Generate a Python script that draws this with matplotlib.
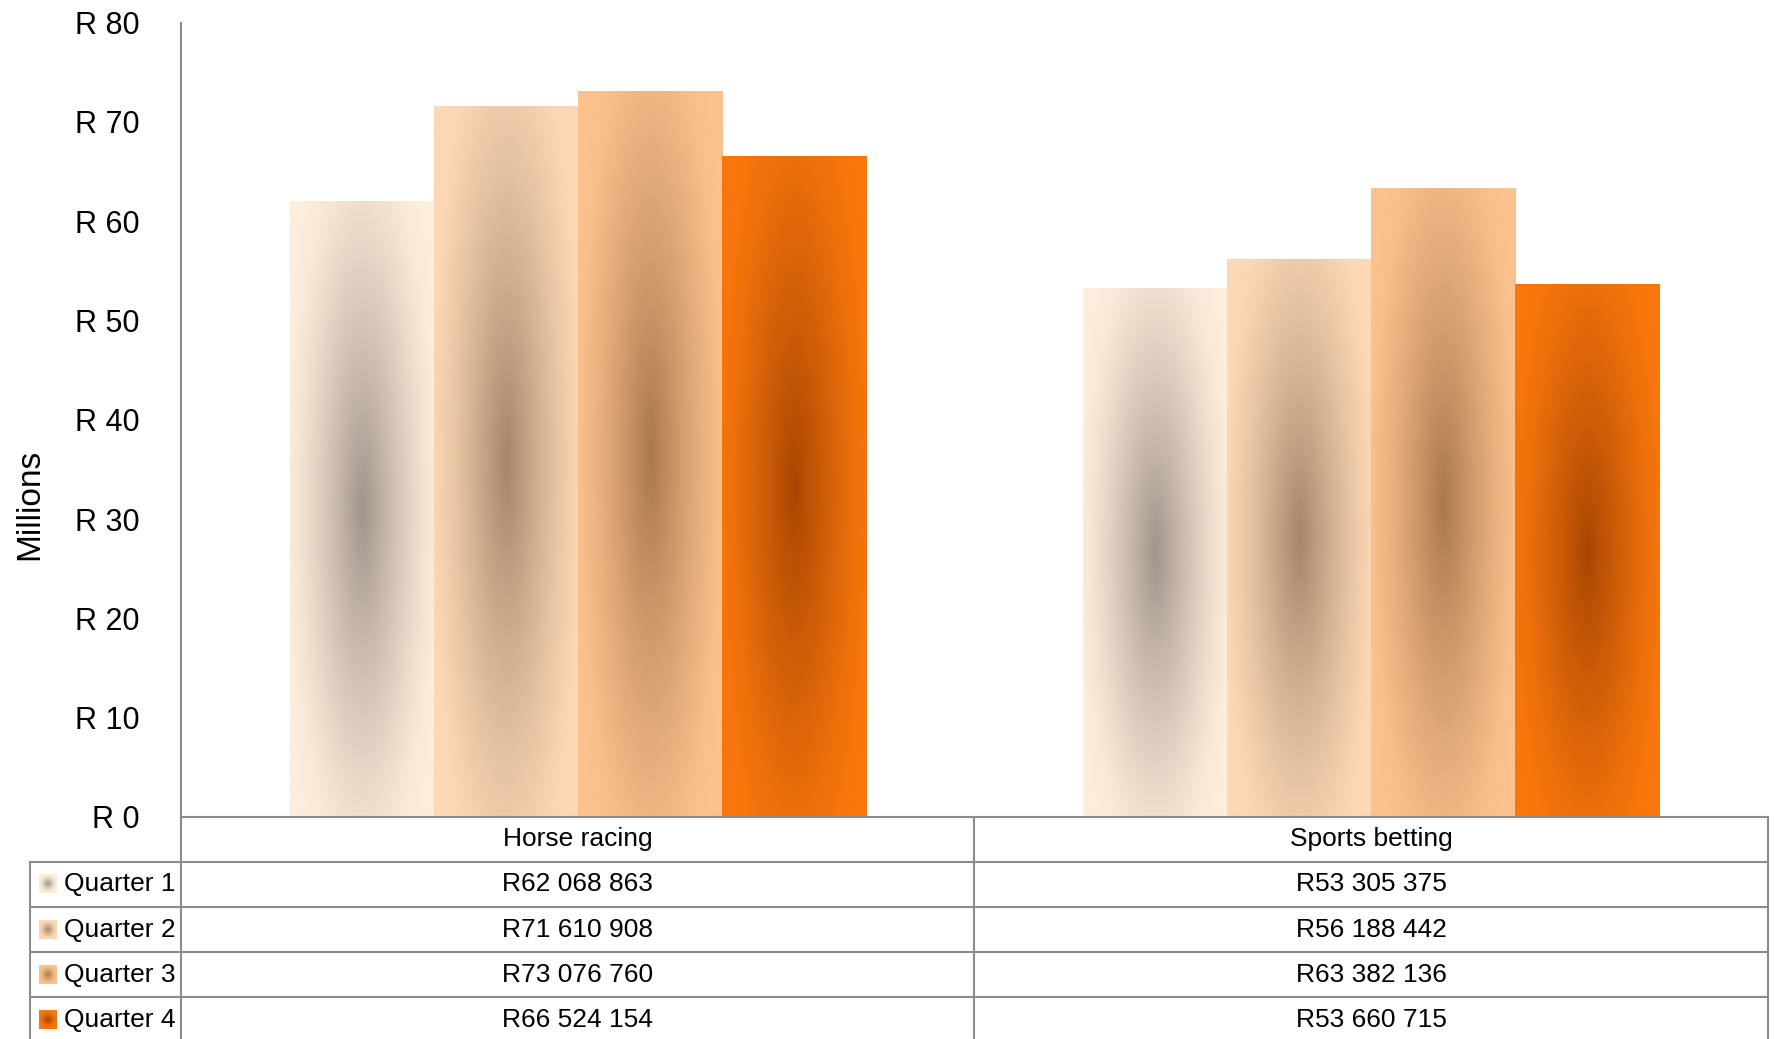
import numpy as np
import matplotlib.pyplot as plt
from matplotlib.colors import to_rgb
from matplotlib.transforms import blended_transform_factory

plt.rcParams['font.family'] = ['Liberation Sans', 'DejaVu Sans']

categories = ['Horse racing', 'Sports betting']
quarters = ['Quarter 1', 'Quarter 2', 'Quarter 3', 'Quarter 4']
q1 = [62068863, 53305375]
q2 = [71610908, 56188442]
q3 = [73076760, 63382136]
q4 = [66524154, 53660715]
values = [q1, q2, q3, q4]

yticks = [0, 10, 20, 30, 40, 50, 60, 70, 80]
ytick_labels = ['R %d' % t for t in yticks]

# light edge / dark centre of each quarter's radial fill
edge_colours = ['#fdeedc', '#fdd8b4', '#fcc28e', '#f8770c']
centre_colours = ['#a2948a', '#a5866c', '#aa784e', '#a84604']
grid_col = '#8c8c8c'


def gradient_image(edge, centre, n=240, cy=0.5, rx=1.1, ry=0.68, power=1.35):
    # rows run bottom -> top (use origin='lower')
    yy, xx = np.mgrid[0:1:n * 1j, -1:1:n * 1j]
    r = np.sqrt((xx / rx) ** 2 + ((yy - cy) / ry) ** 2)
    t = np.clip(1 - r, 0, 1) ** power
    e = np.array(to_rgb(edge))
    c = np.array(to_rgb(centre))
    return e * (1 - t[..., None]) + c * t[..., None]


def fmt_rand(v):
    return 'R' + format(v, ',').replace(',', ' ')


fig = plt.figure(figsize=(17.75, 10.39), dpi=100)
ax = fig.add_axes([0.102, 0.2137, 0.894, 0.7645])

x = np.arange(len(categories))
w = 0.1815
for i, vals in enumerate(values):
    heights = np.array(vals) / 1e6
    bars = ax.bar(x + (i - 1.5) * w, heights, width=w, facecolor='none', edgecolor='none')
    img = gradient_image(edge_colours[i], centre_colours[i])
    for rect in bars:
        x0 = rect.get_x()
        im = ax.imshow(img, extent=[x0, x0 + rect.get_width(), 0, rect.get_height()],
                       origin='lower', aspect='auto', zorder=2, interpolation='bilinear')
        im.set_clip_path(rect)

ax.set_xlim(-0.5, 1.5)
ax.set_ylim(0, 80)
ax.set_xticks([])
ax.set_yticks(yticks)
ax.set_yticklabels(ytick_labels, fontsize=22)
ax.tick_params(axis='y', length=0, pad=30)
for s in ['top', 'right']:
    ax.spines[s].set_visible(False)
for s in ['left', 'bottom']:
    ax.spines[s].set_color(grid_col)
    ax.spines[s].set_linewidth(1.5)

fig.text(30 / 1775, 1 - 504 / 1039, 'Millions', rotation=90, fontsize=24,
         ha='center', va='center')

# data table under the plot
h = 45 / 794
tr = blended_transform_factory(ax.transData, ax.transAxes)
leg_left = (30 - 181) / 1587
line_kw = dict(color=grid_col, lw=1.5, clip_on=False)
n_rows = len(quarters) + 1
for k in range(1, n_rows):
    ax.plot([leg_left, 1], [-h * k, -h * k], transform=ax.transAxes, **line_kw)
for xv in [-0.5, 0.5, 1.5]:
    ax.plot([xv, xv], [0, -h * n_rows], transform=tr, **line_kw)
ax.plot([leg_left, leg_left], [-h, -h * n_rows], transform=ax.transAxes, **line_kw)

for j, cat in enumerate(categories):
    ax.text(x[j], -h * 0.5, cat, transform=tr, ha='center', va='center', fontsize=19)
for i, vals in enumerate(values):
    yc = -h * (i + 1.5)
    for j, v in enumerate(vals):
        ax.text(x[j], yc, fmt_rand(v), transform=tr, ha='center', va='center', fontsize=19)
    sq = 18 / 1587
    sq_h = 18 / 794
    ax.imshow(gradient_image(edge_colours[i], centre_colours[i], n=40, rx=1.0, ry=0.5),
              extent=[-0.0895, -0.0895 + sq, yc - sq_h / 2, yc + sq_h / 2], origin='lower',
              transform=ax.transAxes, aspect='auto', clip_on=False, zorder=3)
    ax.text(-0.0737, yc, quarters[i], transform=ax.transAxes, ha='left', va='center',
            fontsize=19)

ax.set_xlim(-0.5, 1.5)
ax.set_ylim(0, 80)

fig.savefig('out.png', dpi=100)
